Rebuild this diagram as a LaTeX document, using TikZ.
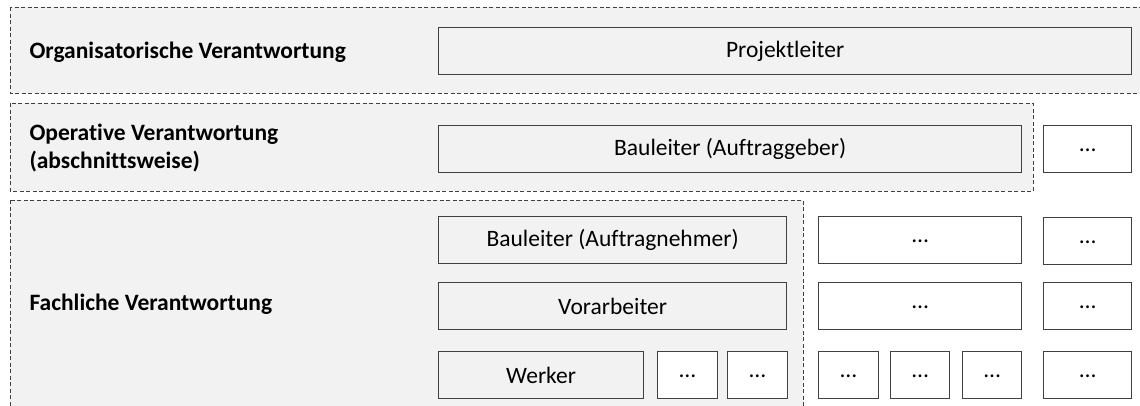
\documentclass[tikz,border=0pt]{standalone}
\usepackage{fontspec}
\setmainfont{Carlito}[Ligatures=NoCommon]
\usetikzlibrary{positioning}

\begin{document}
\begin{tikzpicture}[x=1pt,y=-1pt,
  every node/.style={font=\fontsize{23.5}{28}\selectfont},
  zone/.style={draw=black!75,fill=black!5,line width=.9pt,dash pattern=on 4pt off 2.5pt},
  role/.style={draw=black!75,fill=black!5,line width=1.2pt,anchor=north west,inner sep=0pt,minimum height=47pt},
  more/.style={role,fill=white,text height=.75em,text depth=.25em},
  level/.style={anchor=west,align=left,font=\bfseries\fontsize{23.5}{28}\selectfont}]
\clip (0,0) rectangle (1140,405);
% the three levels
\draw[zone] (10,7) rectangle (1160,93);
\draw[zone] (10,103) rectangle (1033,191);
\draw[zone] (10,200) rectangle (803,420);
\node[level] (org) at (26,52) {Organisatorische Verantwortung};
\node[level] (op) at (26,148) {Operative Verantwortung\\(abschnittsweise)};
\node[level] (fach) at (26,304) {Fachliche Verantwortung};
% roles
\node[role,minimum width=693pt] (pl) at (438,27) {Projektleiter};
\node[role,minimum width=583pt] (blag) at (438,125) {Bauleiter (Auftraggeber)};
\node[more,minimum width=88pt] (m1) at (1043,125) {…};
\node[role,minimum width=348pt] (blan) at (438,216) {Bauleiter (Auftragnehmer)};
\node[more,minimum width=203pt] (m2) at (818,216) {…};
\node[more,minimum width=88pt] (m3) at (1043,217) {…};
\node[role,minimum width=348pt] (vor) at (438,282) {Vorarbeiter};
\node[more,minimum width=203pt] (m4) at (818,282) {…};
\node[more,minimum width=88pt] (m5) at (1043,282) {…};
\node[role,minimum width=205pt] (werk) at (438,351) {Werker};
\node[more,minimum width=60pt] (w1) at (657,351) {…};
\node[more,minimum width=60pt] (w2) at (727,351) {…};
\node[more,minimum width=60pt] (w3) at (818,351) {…};
\node[more,minimum width=59pt] (w4) at (890,351) {…};
\node[more,minimum width=59pt] (w5) at (962,351) {…};
\node[more,minimum width=88pt] (m6) at (1043,351) {…};
\end{tikzpicture}
\end{document}
